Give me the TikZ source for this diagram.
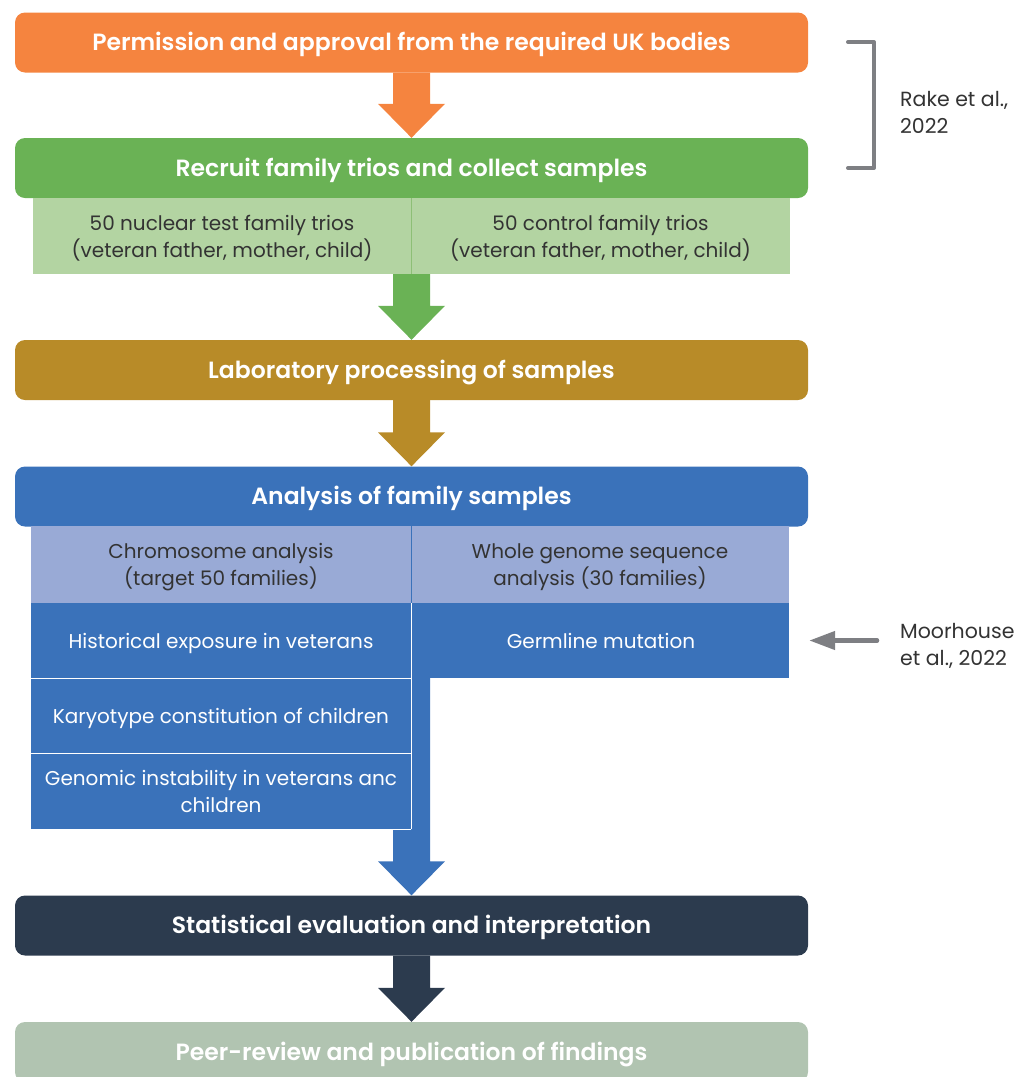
\documentclass[tikz,border=0pt]{standalone}
\usepackage{fontspec}
\setmainfont{Poppins}[BoldFont={Poppins SemiBold}]
\usetikzlibrary{arrows.meta,backgrounds}

\definecolor{permorange}{HTML}{F5843F}
\definecolor{recruitgreen}{HTML}{6AB255}
\definecolor{triogreen}{HTML}{B3D4A2}
\definecolor{triodiv}{HTML}{8DBF76}
\definecolor{labgold}{HTML}{B88B28}
\definecolor{anblue}{HTML}{3A72BA}
\definecolor{headblue}{HTML}{99AAD6}
\definecolor{statnavy}{HTML}{2C3B4E}
\definecolor{peersage}{HTML}{B1C4B1}
\definecolor{refgray}{HTML}{7E7F83}
\definecolor{bodytext}{HTML}{333333}

% block arrow: start, tip, colour
\newcommand{\blockarrow}[3]{%
  \fill[#3] ([xshift=-18.5pt]#1) -- ([xshift=-18.5pt,yshift=34pt]#2)
    -- ([xshift=-33.5pt,yshift=34pt]#2) -- (#2)
    -- ([xshift=33.5pt,yshift=34pt]#2) -- ([xshift=18.5pt,yshift=34pt]#2)
    -- ([xshift=18.5pt]#1) -- cycle;}

\begin{document}
\begin{tikzpicture}[x=1pt, y=-1pt,
  bar/.style={rounded corners=10pt, minimum width=793pt, minimum height=60pt,
    inner sep=0pt, text height=16.5pt, text depth=0pt, text=white,
    font=\fontsize{23.5}{28}\selectfont\bfseries},
  cell/.style={minimum height=76pt, inner sep=0pt, align=center, text=bodytext,
    text depth=0pt, font=\fontsize{20}{27}\selectfont},
  bluecell/.style={cell, fill=anblue, text=white, minimum height=75pt},
  note/.style={align=left, inner sep=3pt, text=bodytext,
    font=\fontsize{20.5}{27}\selectfont},
  bracket/.style={refgray, line width=4pt, line cap=round, line join=round},
  refarrow/.style={refgray, line width=4.5pt, line cap=round,
    -{Triangle[length=26pt,width=18pt]}}]
  \useasboundingbox (0,0) rectangle (1033,1077);

  \node[bar, fill=permorange] (perm) at (411.5,42.5) {Permission and approval from the required UK bodies};
  \node[bar, fill=recruitgreen] (recruit) at (411.5,168) {Recruit family trios and collect samples};
  \node[cell, fill=triogreen, minimum width=378pt] (testtrio) at (222,236) {50 nuclear test family trios\\(veteran father, mother, child)};
  \node[cell, fill=triogreen, minimum width=379pt] (ctrltrio) at (600.5,236) {50 control family trios\\(veteran father, mother, child)};
  \draw[triodiv, line width=1pt] (testtrio.north east) -- (testtrio.south east);
  \coordinate (trios-bot) at (recruit.south |- testtrio.south);

  \node[bar, fill=labgold] (lab) at (411.5,370) {Laboratory processing of samples};
  \node[bar, fill=anblue] (analysis) at (411.5,496.5) {Analysis of family samples};

  \node[cell, fill=headblue, minimum width=380pt, minimum height=77pt] (chrom) at (221,564.5) {Chromosome analysis\\(target 50 families)};
  \node[cell, fill=headblue, minimum width=378pt, minimum height=77pt] (wgs) at (600,564.5) {Whole genome sequence\\analysis (30 families)};
  \draw[anblue, line width=1pt] (chrom.north east) -- (chrom.south east);
  \node[bluecell, minimum width=380pt] (hist) at (221,640.5) {Historical exposure in veterans};
  \node[bluecell, minimum width=376pt] (germ) at (601,640.5) {Germline mutation};
  \node[bluecell, minimum width=380pt] (karyo) at (221,716) {Karyotype constitution of children};
  \node[bluecell, minimum width=380pt] (genomic) at (221,791.5) {Genomic instability in veterans anc\\children};
  \foreach \c in {hist,karyo,genomic}
    \draw[white, line width=1.2pt] (\c.south west) -- (\c.south east);
  \draw[white, line width=1.2pt] (hist.north east) -- (genomic.south east);

  \node[bar, fill=statnavy] (stats) at (411.5,925.5) {Statistical evaluation and interpretation};
  \node[bar, fill=peersage] (peer) at (411.5,1052) {Peer-review and publication of findings};

  \begin{pgfonlayer}{background}
    \blockarrow{perm.south}{recruit.north}{permorange}
    \blockarrow{trios-bot}{lab.north}{recruitgreen}
    \blockarrow{lab.south}{analysis.north}{labgold}
    \blockarrow{analysis.south}{stats.north}{anblue}
    \blockarrow{stats.south}{peer.north}{statnavy}
  \end{pgfonlayer}

  % references
  \coordinate (rake-top) at (848,42);
  \coordinate (rake-bot) at (848,168);
  \draw[bracket] (rake-top) -- ++(26,0) |- (rake-bot);
  \node[note, anchor=west] (rake) at (897,112) {Rake et al.,\\2022};
  \node[note, anchor=west] (moor) at (897,646) {Moorhouse\\et al., 2022};
  \draw[refarrow] ([xshift=-20pt]moor.west |- germ.east) -- ([xshift=20pt]germ.east);
\end{tikzpicture}
\end{document}
